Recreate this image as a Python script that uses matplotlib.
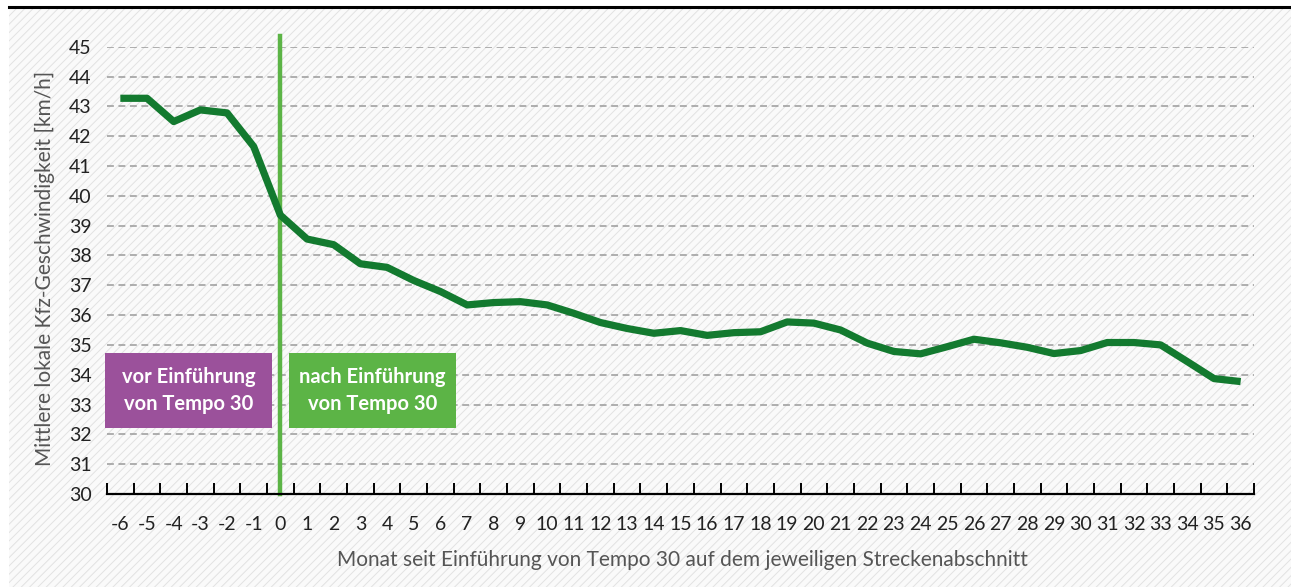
import matplotlib.pyplot as plt
import numpy as np
from matplotlib.patches import Rectangle
from matplotlib.lines import Line2D

plt.rcParams['font.family'] = ['Lato', 'DejaVu Sans']
plt.rcParams['hatch.linewidth'] = 0.7

months = list(range(-6, 37))
speed = [43.27, 43.27, 42.49, 42.88, 42.78, 41.65, 39.35,
         38.55, 38.36, 37.72, 37.6, 37.16, 36.79, 36.34, 36.42, 36.45,
         36.34, 36.06, 35.75, 35.55, 35.39, 35.48, 35.32, 35.41, 35.44,
         35.77, 35.73, 35.5, 35.06, 34.78, 34.7, 34.94, 35.19, 35.07,
         34.92, 34.71, 34.81, 35.08, 35.08, 35.0, 34.44, 33.87, 33.77]
y_ticks = list(range(30, 46))
before_label = "vor Einführung\nvon Tempo 30"
after_label = "nach Einführung\nvon Tempo 30"
x_title = "Monat seit Einführung von Tempo 30 auf dem jeweiligen Streckenabschnitt"
y_title = "Mittlere lokale Kfz-Geschwindigkeit [km/h]"

line_green = '#137a2f'
light_green = '#5cb446'
purple = '#9b519b'
text_grey = '#555555'

W, H = 1291, 587
fig = plt.figure(figsize=(W / 100, H / 100), dpi=100)

# hatched background
fig.patches.append(Rectangle((9 / W, 0), 1 - 9 / W, 1 - 9 / H, transform=fig.transFigure,
                             facecolor='#fafafa', edgecolor='#e2e2e2', hatch='////',
                             linewidth=0, zorder=-10))
fig.lines.append(Line2D([9 / W, 1], [1 - 7 / H, 1 - 7 / H], transform=fig.transFigure,
                        color='black', linewidth=2.2))

ax = fig.add_axes([107 / W, 1 - 494 / H, (1254 - 107) / W, (494 - 46.7) / H])
ax.set_facecolor('none')
ax.set_xlim(-6.5, 36.5)
ax.set_ylim(30, 45)

for v in y_ticks[1:]:
    ax.axhline(v, color='#9a9a9a', linewidth=1.1, linestyle=(0, (4.5, 3)), zorder=1)

ax.plot(months, speed, color=line_green, linewidth=5.2, solid_joinstyle='round',
        solid_capstyle='butt', zorder=4)
ax.plot([0, 0], [30, 45.35], color=light_green, linewidth=3.2, zorder=3, clip_on=False)

for spine in ['top', 'right', 'left']:
    ax.spines[spine].set_visible(False)
ax.spines['bottom'].set_linewidth(1.6)
ax.spines['bottom'].set_zorder(5)

ax.set_xticks(months)
ax.set_xticklabels([str(m) for m in months], fontsize=14, color='#222222')
ax.set_xticks(np.arange(-6.5, 37, 1), minor=True)
ax.tick_params(axis='x', which='major', length=0, pad=16)
ax.tick_params(axis='x', which='minor', direction='in', length=8, width=1.4, color='black')
ax.set_yticks(y_ticks)
ax.set_yticklabels([str(v) for v in y_ticks], fontsize=14, color='#222222')
ax.tick_params(axis='y', length=0, pad=11)

# annotation boxes
ax.add_patch(Rectangle((-6.57, 32.21), 6.26, 2.52, facecolor=purple, edgecolor='none',
                       zorder=6, clip_on=False))
ax.add_patch(Rectangle((0.32, 32.21), 6.26, 2.52, facecolor=light_green, edgecolor='none',
                       zorder=6, clip_on=False))
ax.text(-3.44, 33.47, before_label, ha='center', va='center', color='white',
        fontsize=14.5, fontweight='bold', linespacing=1.45, zorder=7)
ax.text(3.45, 33.47, after_label, ha='center', va='center', color='white',
        fontsize=14.5, fontweight='bold', linespacing=1.45, zorder=7)

fig.text(45 / W, 1 - 268 / H, y_title, rotation=90, ha='center', va='center',
         fontsize=15, color=text_grey)
fig.text(682 / W, 1 - 560 / H, x_title, ha='center', va='center',
         fontsize=15, color=text_grey)

fig.savefig('out.png', dpi=100)
